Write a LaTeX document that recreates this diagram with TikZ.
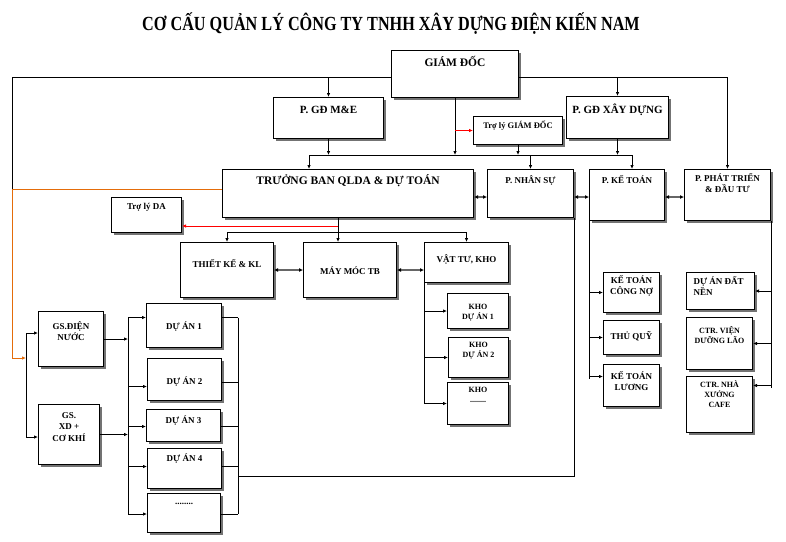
\documentclass[tikz,border=0pt]{standalone}
\usepackage{fontspec}
\setmainfont{Liberation Serif}
\usepackage{graphicx}
\usetikzlibrary{positioning,arrows.meta,shadows}
\definecolor{kiennamred}{RGB}{255,0,0}
\definecolor{kiennamorange}{RGB}{228,108,10}
% box text: width, height, centre of first line from top, text
\newcommand{\kntext}[4]{\parbox[t][#2pt][t]{#1pt}{\centering\lineskiplimit=-30pt
  \vspace*{\dimexpr#3pt-0.72em\relax}\rule{0pt}{1.05em}#4\par}}
\tikzset{
  knbox/.style={
    draw=black,
    line width=1pt,
    fill=white,
    inner sep=0pt,
    anchor=north west,
    drop shadow={shadow xshift=2pt, shadow yshift=-2pt, fill=black!55, opacity=1},
    font=\bfseries\fontsize{9}{11.5}\selectfont
  },
  knbig/.style={
    knbox,
    font=\bfseries\fontsize{11}{13}\selectfont
  },
  knsmall/.style={
    knbox,
    font=\bfseries\fontsize{8}{10}\selectfont
  },
  kntitle/.style={
    font=\bfseries\fontsize{20}{24}\selectfont
  },
  knline/.style={
    draw=black,
    line width=1pt
  },
  knarrow/.style={
    knline,
    -{Latex[length=4pt,width=3.5pt]}
  },
  knredarrow/.style={
    knarrow,
    draw=kiennamred
  },
  knorangearrow/.style={
    knarrow,
    draw=kiennamorange
  },
  kndouble/.style={
    draw=black!60,
    line width=1.6pt,
    {Latex[length=4pt,width=4pt,color=black]}-{Latex[length=4pt,width=4pt,color=black]}
  }
}

\begin{document}
\begin{tikzpicture}[x=1pt, y=-1pt]
    \fill[white] (0,0) rectangle (786,541);
    \useasboundingbox (0,0) rectangle (786,541);

    \node (title) [kntitle] at (391,24) {\scalebox{0.81}[1]{CƠ CẤU QUẢN LÝ CÔNG TY TNHH XÂY DỰNG ĐIỆN KIẾN NAM}};

    % top levels
    \node (gd) [knbig, font=\bfseries\fontsize{11.5}{13}\selectfont] at (391,50) {\kntext{127}{47}{12}{GIÁM ĐỐC}};
    \node (gdme) [knbig] at (273,97) {\kntext{110}{41}{12}{P. GĐ M\&E}};
    \node (tlgd) [knbox, font=\bfseries\fontsize{8.5}{10}\selectfont] at (473,116) {\kntext{89}{28}{9}{Trợ lý GIÁM ĐỐC}};
    \node (gdxd) [knbig] at (566,96) {\kntext{102}{42}{13}{P. GĐ XÂY DỰNG}};

    % departments
    \node (tb) [knbig, font=\bfseries\fontsize{11.5}{13}\selectfont] at (222,169) {\kntext{251}{48}{11.7}{TRƯỞNG BAN QLDA \& DỰ TOÁN}};
    \node (ns) [knbox] at (487,169) {\kntext{86}{48}{11}{P. NHÂN SỰ}};
    \node (kt) [knbox] at (589,169) {\kntext{75}{51}{11}{P. KẾ TOÁN}};
    \node (pt) [knbox] at (684,169) {\kntext{86}{51}{9}{P. PHÁT TRIỂN\\\& ĐẦU TƯ}};
    \node (tlda) [knbox] at (111,197) {\kntext{70}{35}{8.7}{Trợ lý DA}};

    % under truong ban
    \node (tk) [knbox] at (180,242) {\kntext{93}{55}{22}{THIẾT KẾ \& KL}};
    \node (mm) [knbox] at (303,242) {\kntext{93}{55}{28.7}{MÁY MÓC TB}};
    \node (vt) [knbox] at (424,242) {\kntext{84}{40}{17}{VẬT TƯ, KHO}};
    \node (kho1) [knsmall] at (447,293) {\kntext{61}{35}{13.7}{KHO\\DỰ ÁN 1}};
    \node (kho2) [knsmall] at (448,337) {\kntext{60}{40}{7.7}{KHO\\DỰ ÁN 2}};
    \node (kho3) [knsmall] at (447,382) {\kntext{61}{42}{7.7}{KHO\\........}};

    % ke toan, phat trien
    \node (ktcn) [knbox] at (603,272) {\kntext{56}{40}{8}{KẾ TOÁN\\CÔNG NỢ}};
    \node (tq) [knbox] at (603,320) {\kntext{56}{34}{16}{THỦ QUỸ}};
    \node (ktl) [knbox] at (603,364) {\kntext{56}{42}{11.7}{KẾ TOÁN\\LƯƠNG}};
    \node (dadn) [knbox] at (686,272) {\kntext{68}{37}{8.7}{\raggedright\leftskip=7pt DỰ ÁN ĐẤT\\NỀN}};
    \node (ctrv) [knsmall] at (686,317) {\kntext{66}{52}{13}{CTR. VIỆN\\DƯỠNG LÃO}};
    \node (ctrn) [knsmall] at (686,376) {\kntext{66}{56}{8.3}{CTR. NHÀ\\XƯỞNG\\CAFE}};

    % giam sat, du an
    \node (gsdn) [knbox] at (38,311) {\kntext{65}{55}{14.7}{GS.ĐIỆN\\NƯỚC}};
    \node (gsxd) [knbox] at (38,404) {\kntext{61}{60}{11}{GS.\\XD +\\CƠ KHÍ}};
    \node (da1) [knbox] at (146,303) {\kntext{75}{44}{22.7}{DỰ ÁN 1}};
    \node (da2) [knbox] at (147,358) {\kntext{74}{42}{22.7}{DỰ ÁN 2}};
    \node (da3) [knbox] at (146,409) {\kntext{74}{32}{11}{DỰ ÁN 3}};
    \node (da4) [knbox] at (147,448) {\kntext{74}{40}{10.3}{DỰ ÁN 4}};
    \node (da5) [knbox] at (147,493) {\kntext{73}{39}{8}{........}};

    % helper points
    \coordinate (ytop) at (0,77);
    \coordinate (ltop) at (12,77);
    \coordinate (ljoin) at (12,189);
    \coordinate (lturn) at (12,358);
    \coordinate (gsT) at (26,333);
    \coordinate (gsM) at (26,358);
    \coordinate (gsB) at (26,437);
    \coordinate (bus1) at (309,155);
    \coordinate (bus2) at (632,155);
    \coordinate (bus3) at (338,232);
    \coordinate (redda) at (338,226);
    \coordinate (yd) at (0,197);
    \coordinate (daL) at (128,0);
    \coordinate (daR) at (238,0);
    \coordinate (daJ) at (238,476);

    % from giam doc
    \draw[knline] (gd.west |- ltop) -- (ltop) -- (ljoin);
    \draw[knarrow] (gdme.north |- ltop) -- (gdme.north);
    \draw[knarrow] (gd.east |- ytop) -| (pt.north);
    \draw[knarrow] (gdxd.north |- ytop) -- (gdxd.north);
    \draw[knarrow] (gd.south) -- (gd.south |- bus1);
    \draw[knredarrow] (gd.south |- tlgd.west) -- (tlgd.west);
    \draw[knarrow] (gdme.south) -- (gdme.south |- bus1);
    \draw[knarrow] (tlgd.south) -- (tlgd.south |- bus1);
    \draw[knarrow] (gdxd.south) -- (gdxd.south |- bus1);
    \draw[knline] (bus1) -- (bus2);
    \draw[knarrow] (bus1) -- (bus1 |- tb.north);
    \draw[knarrow] (ns.north |- bus1) -- (ns.north);
    \draw[knarrow] (bus2) -- (bus2 |- kt.north);

    \draw[kndouble] (tb.east |- yd) -- (ns.west |- yd);
    \draw[kndouble] (ns.east |- yd) -- (kt.west |- yd);
    \draw[kndouble] (kt.east |- yd) -- (pt.west |- yd);

    % orange line down to giam sat
    \draw[knorangearrow] (tb.west |- ljoin) -- (ljoin) -- (lturn) -- (gsM);
    \draw[knline] (gsT) -- (gsB);
    \draw[knarrow] (gsT) -- (gsdn.west |- gsT);
    \draw[knarrow] (gsB) -- (gsxd.west |- gsB);
    \draw[knarrow] (gsdn.east) -- (gsdn.east -| daL);
    \draw[knarrow] (gsxd.east) -- (gsxd.east -| daL);

    % du an buses
    \foreach \n/\dl/\dr in {da1/8/8, da2/-7/-3, da3/-1/-1, da4/2/2, da5/-1/-1} {
      \coordinate (in\n) at ([yshift=\dl pt]\n.west);
      \coordinate (out\n) at ([yshift=\dr pt]\n.east);
      \draw[knarrow] (in\n -| daL) -- (in\n);
      \draw[knline] (out\n) -- (out\n -| daR);
    }
    \draw[knline] (inda1 -| daL) -- (inda5 -| daL);
    \draw[knline] (outda1 -| daR) -- (outda5 -| daR);
    \draw[knline] (daJ) -| (ns.south east);

    % truong ban
    \draw[knline] (bus3 |- tb.south) -- (bus3);
    \draw[knredarrow] (redda) -- (redda -| tlda.east);
    \draw[knline] (tk.north |- bus3) -- (vt.north |- bus3);
    \draw[knarrow] (tk.north |- bus3) -- (tk.north);
    \draw[knarrow] (bus3) -- (bus3 |- mm.north);
    \draw[knarrow] (vt.north |- bus3) -- (vt.north);
    \draw[kndouble] (tk.east) -- (mm.west);
    \draw[kndouble] (mm.east) -- (mm.east -| vt.west);

    % kho
    \draw[knline] (vt.south west) -- (vt.south west |- kho3.west);
    \foreach \k in {kho1,kho2,kho3}
      \draw[knarrow] (vt.south west |- \k.west) -- (\k.west);

    % ke toan
    \coordinate (ktlin) at ([yshift=9pt]ktl.west);
    \draw[knline] (kt.south west) -- ([yshift=-2pt]kt.south west |- ktlin);
    \foreach \k in {ktcn,tq}
      \draw[knarrow] (kt.south west |- \k.west) -- (\k.west);
    \draw[knarrow] (kt.south west |- ktlin) -- (ktlin);

    % phat trien
    \coordinate (ctrnin) at ([yshift=19pt]ctrn.east);
    \draw[knline] (pt.south east) -- ([yshift=-2pt]pt.south east |- ctrnin);
    \foreach \k in {dadn,ctrv}
      \draw[knarrow] (pt.south east |- \k.east) -- (\k.east);
    \draw[knarrow] (pt.south east |- ctrnin) -- (ctrnin);
\end{tikzpicture}
\end{document}
